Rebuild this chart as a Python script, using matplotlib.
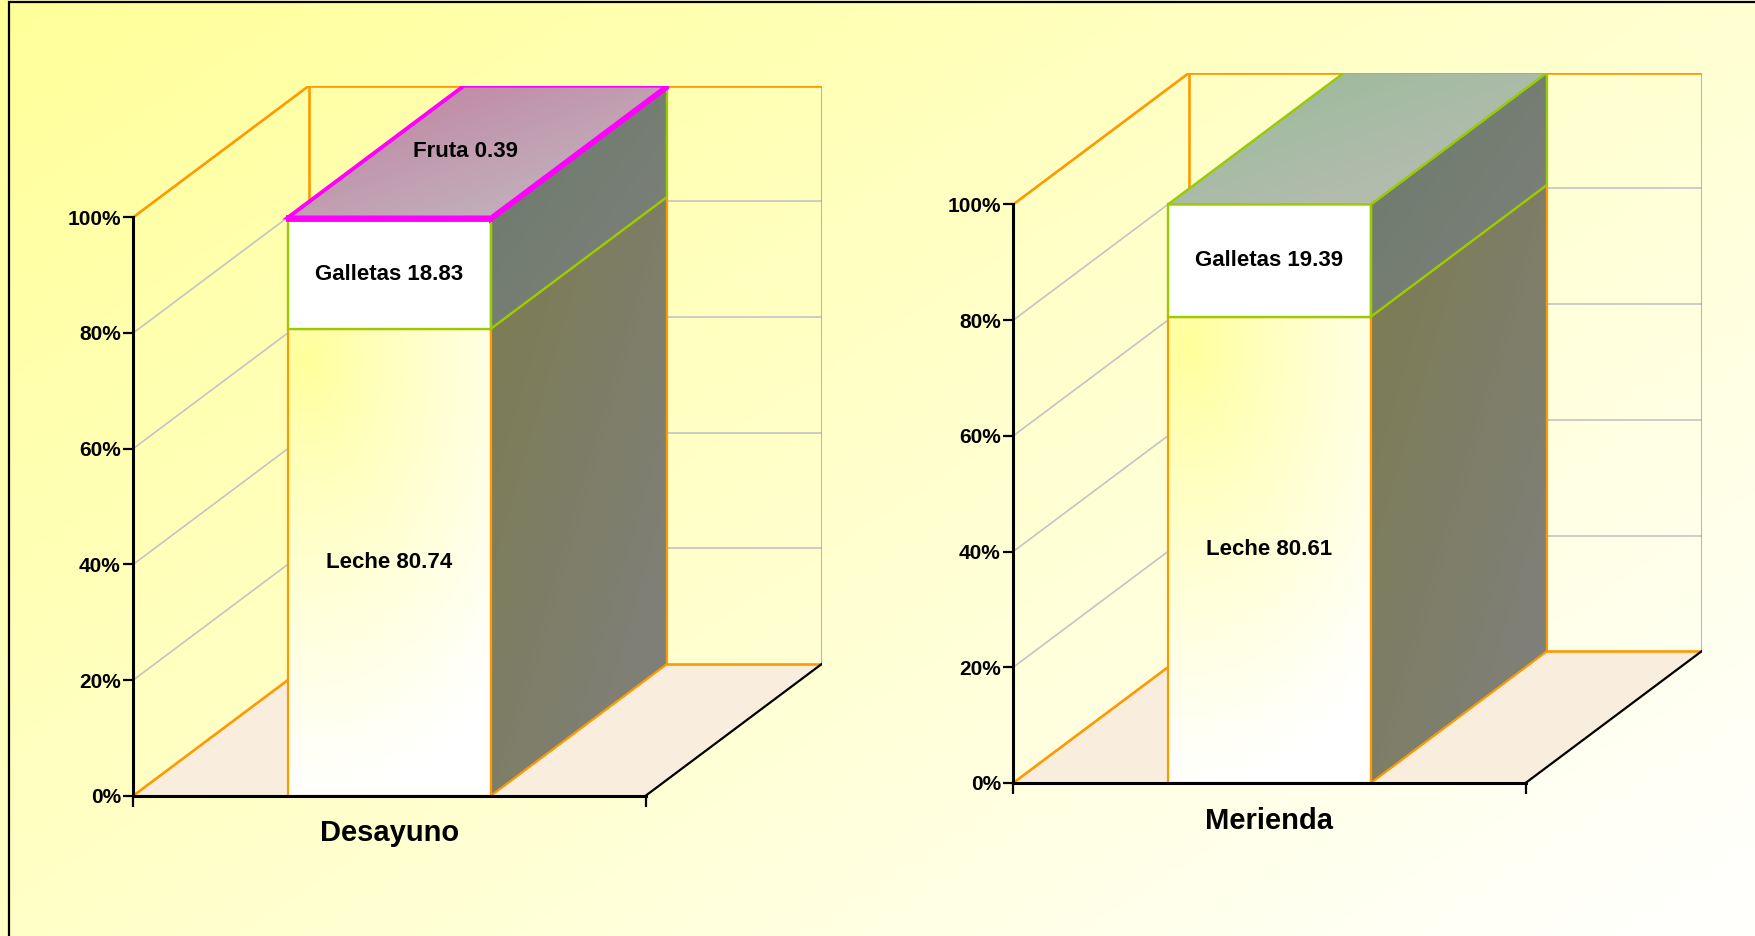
import numpy as np
import matplotlib
matplotlib.use("Agg")
import matplotlib.pyplot as plt
from matplotlib.patches import Polygon, Rectangle
from matplotlib.colors import to_rgb

# ---------------- data ----------------
categories = ['Desayuno', 'Merienda']
series_names = ['Leche', 'Galletas', 'Fruta']
leche = [80.74, 80.61]
galletas = [18.83, 19.39]
fruta = [0.39, 0.0]
y_ticks = [0, 20, 40, 60, 80, 100]
y_tick_labels = ['0%', '20%', '40%', '60%', '80%', '100%']

plt.rcParams['font.family'] = ['Liberation Sans', 'DejaVu Sans']
plt.rcParams['font.weight'] = 'bold'

W, H = 1756, 936
fig = plt.figure(figsize=(W / 100, H / 100), dpi=100)

# ---------------- background ----------------
bg = fig.add_axes([0, 0, 1, 1], zorder=-10)
gx, gy = np.meshgrid(np.linspace(0, 1, 400), np.linspace(0, 1, 200))
t = np.clip((gx * 0.55 + gy * 0.45) * 1.05, 0, 1)[..., None]
c0 = np.array(to_rgb('#FFFF99'))
c1 = np.array(to_rgb('#FFFFFB'))
bg.imshow(c0 * (1 - t) + c1 * t, extent=(0, 1, 0, 1), aspect='auto', origin='upper')
bg.set_xlim(0, 1); bg.set_ylim(0, 1)
bg.axis('off')

fig.add_artist(Rectangle((8.5 / W, -0.2), 1.5, 1.2 - 2.0 / H, transform=fig.transFigure,
                         fill=False, ec='black', lw=1.6))

# ---------------- layout ----------------
SX, SY = 512.4, 5.785          # px per category unit / per percent
DX, DY = 176.0, 131.7          # depth offset in px
DDX, DDY = DX / SX, DY / SY    # depth offset in data units
origins = [(133.3, 795.7), (1013.3, 782.9)]
BAR_HW = 0.198

ORANGE = '#FF9900'
GRID = '#C4C4C4'
FLOOR = '#F9EDDE'

front_style = {
    'Leche': ('radial', '#FFFF99', '#FFFFFF'),
    'Galletas': ('flat', '#FFFFFF', '#FFFFFF'),
    'Fruta': ('flat', '#C0809F', '#C0809F'),
}
side_style = {
    'Leche': ('#7C7C50', '#808080'),
    'Galletas': ('#6B7B6B', '#80807B'),
    'Fruta': ('#A06080', '#B8A8B0'),
}
top_style = {
    'Leche': ('#FFFF99', '#FFFFFF'),
    'Galletas': ('#98BA98', '#BCBDB6'),
    'Fruta': ('#BF7E9E', '#C3BEC3'),
}
edge_style = {
    'Leche': (ORANGE, 1.6),
    'Galletas': ('#99CC00', 1.7),
    'Fruta': ('#FF00FF', 2.8),
}


def grad_face(ax, pts, ca, cb, kind, z):
    pts = np.asarray(pts, float)
    xmin, xmax = pts[:, 0].min(), pts[:, 0].max()
    ymin, ymax = pts[:, 1].min(), pts[:, 1].max()
    wpx, hpx = (xmax - xmin) * SX, (ymax - ymin) * SY
    U, Wv = np.meshgrid(np.linspace(0, 1, 160), np.linspace(0, 1, 320))
    if kind == 'radial':
        d = np.sqrt(((U * wpx - 20) * 1.2) ** 2 + ((Wv * hpx - 30) * 0.75) ** 2)
        tt = (d / 330.0) ** 0.8
    elif kind == 'h':
        tt = U
    elif kind == 'flat':
        tt = np.zeros_like(U)
    else:
        tt = (U + Wv) / 2
    tt = np.clip(tt, 0, 1)[..., None]
    a, b = np.array(to_rgb(ca)), np.array(to_rgb(cb))
    img = a * (1 - tt) + b * tt
    clip = Polygon(pts, closed=True, transform=ax.transData)
    im = ax.imshow(img, extent=(xmin, xmax, ymin, ymax), origin='upper',
                   aspect='auto', interpolation='bilinear', zorder=z)
    im.set_clip_path(clip)
    return im


for i, cat in enumerate(categories):
    ox, oy = origins[i]
    ax = fig.add_axes([ox / W, 1 - oy / H, SX * (1 + DDX) / W, SY * (100 + DDY) / H])
    ax.patch.set_alpha(0)

    # floor
    ax.add_patch(Polygon([(0, 0), (1, 0), (1 + DDX, DDY), (DDX, DDY)], closed=True,
                         fc=FLOOR, ec='none', zorder=1))
    # gridlines on the walls
    for v in y_ticks[1:-1]:
        ax.plot([0, DDX], [v, v + DDY], color=GRID, lw=1.2, zorder=2)
        ax.plot([DDX, 1 + DDX], [v + DDY, v + DDY], color=GRID, lw=1.2, zorder=2)
    # wall edges
    kw = dict(color=ORANGE, lw=1.9, zorder=3, solid_capstyle='projecting')
    ax.plot([0, DDX], [100, 100 + DDY], **kw)
    ax.plot([DDX, DDX], [DDY, 100 + DDY], **kw)
    ax.plot([DDX, 1 + DDX], [100 + DDY, 100 + DDY], **kw)
    ax.plot([1 + DDX, 1 + DDX], [DDY, 100 + DDY], **kw)
    ax.plot([DDX, 1 + DDX], [DDY, DDY], **kw)
    ax.plot([0, DDX], [0, DDY], **kw)
    ax.plot([1, 1 + DDX], [0, DDY], color='black', lw=1.6, zorder=3)

    # stacked 3D bar
    vals = [leche[i], galletas[i], fruta[i]]
    x0, x1 = 0.5 - BAR_HW, 0.5 + BAR_HW
    base = 0.0
    z = 5
    top_name = None
    for name, v in zip(series_names, vals):
        if v <= 0:
            continue
        y0, y1 = base, base + v
        ec, lw = edge_style[name]
        fk, fa, fb = front_style[name]
        front = [(x0, y0), (x1, y0), (x1, y1), (x0, y1)]
        side = [(x1, y0), (x1 + DDX, y0 + DDY), (x1 + DDX, y1 + DDY), (x1, y1)]
        grad_face(ax, front, fa, fb, fk, z)
        grad_face(ax, side, side_style[name][0], side_style[name][1], 'diag', z)
        ax.add_patch(Polygon(front, closed=True, fill=False, ec=ec, lw=lw, zorder=z + 0.5))
        ax.add_patch(Polygon(side, closed=True, fill=False, ec=ec, lw=lw, zorder=z + 0.5))
        top_name = name
        base = y1
        z += 1
    # top face
    ytop = base
    topf = [(x0, ytop), (x1, ytop), (x1 + DDX, ytop + DDY), (x0 + DDX, ytop + DDY)]
    grad_face(ax, topf, top_style[top_name][0], top_style[top_name][1], 'diag', z)
    ec, lw = edge_style[top_name]
    ax.add_patch(Polygon(topf, closed=True, fill=False, ec=ec, lw=lw, zorder=z + 0.5))

    # labels
    base = 0.0
    for name, v in zip(series_names, vals):
        if v <= 0:
            continue
        if v < 3:
            tx, ty = 0.5 + DDX / 2 - 0.024, base + v + DDY / 2
        else:
            tx, ty = 0.5, base + v / 2
        ax.text(tx, ty, f'{name} {v:.2f}', ha='center', va='center',
                fontsize=16, fontweight='bold', color='black', zorder=40)
        base += v

    # axes
    ax.set_xlim(0, 1 + DDX)
    ax.set_ylim(0, 100 + DDY)
    for s in ['top', 'right']:
        ax.spines[s].set_visible(False)
    ax.spines['left'].set_bounds(0, 100)
    ax.spines['bottom'].set_bounds(0, 1)
    for s in ['left', 'bottom']:
        ax.spines[s].set_linewidth(2.2)
        ax.spines[s].set_zorder(30)
    ax.set_yticks(y_ticks, y_tick_labels)
    ax.tick_params(axis='y', length=7, width=1.6, pad=2, labelsize=15, direction='out')
    ax.set_xticks([0, 1], ['', ''])
    ax.tick_params(axis='x', which='major', length=8, width=1.6, direction='out')
    ax.set_xticks([0.5], [cat], minor=True)
    ax.tick_params(axis='x', which='minor', length=0, pad=17, labelsize=21)
    for lab in ax.get_yticklabels() + ax.get_xticklabels(minor=True):
        lab.set_fontweight('bold')

fig.savefig('out.png', dpi=100)
